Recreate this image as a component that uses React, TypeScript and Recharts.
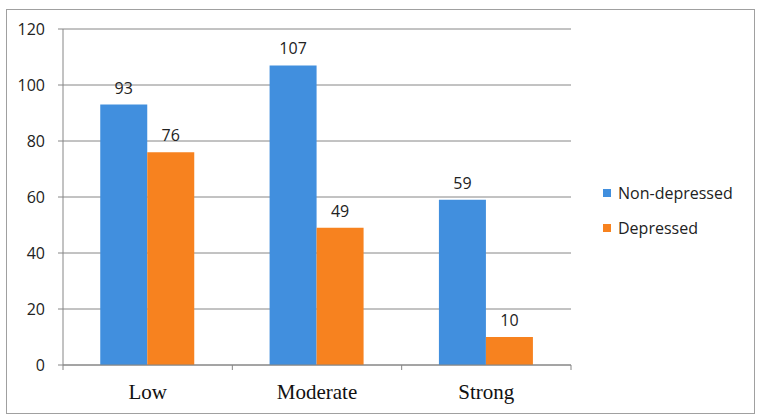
import React from 'react'
import { BarChart, Bar, XAxis, YAxis, CartesianGrid, Legend, LabelList } from 'recharts'

const categories = ['Low', 'Moderate', 'Strong']
const seriesNames = ['Non-depressed', 'Depressed']
const nonDepressed = [93, 107, 59]
const depressed = [76, 49, 10]
const yTicks = [0, 20, 40, 60, 80, 100, 120]

const data = categories.map((name, i) => ({
  name,
  nonDepressed: nonDepressed[i],
  depressed: depressed[i],
}))

const W = 747
const H = 403
const legendWidth = 150
const margin = { top: 19, right: 183 - legendWidth, bottom: 18, left: 6 }
const yAxisWidth = 50
const plotWidth = W - 183 - margin.left - yAxisWidth
const half = plotWidth / categories.length / 2
const axisColor = '#868686'

function CategoryTick(props: any) {
  const { x, y, payload, index } = props
  const last = index === categories.length - 1
  return (
    <g>
      <line x1={x - half} x2={x - half} y1={y} y2={y + 5} stroke={axisColor} />
      {last && <line x1={x + half} x2={x + half} y1={y} y2={y + 5} stroke={axisColor} />}
      <text x={x} y={y + 34} textAnchor="middle" fill="#111" fontSize={21} fontFamily="'Liberation Serif', 'Times New Roman', serif">
        {payload.value}
      </text>
    </g>
  )
}

function LegendBox(props: any) {
  const payload = [...(props.payload || [])].sort(
    (a: any, b: any) => seriesNames.indexOf(a.value) - seriesNames.indexOf(b.value)
  )
  return (
    <div style={{ fontFamily: "'Open Sans', sans-serif", fontSize: 16, color: '#222', width: legendWidth }}>
      {payload.map((p: any) => (
        <div key={p.value} style={{ height: 35, display: 'flex', alignItems: 'center' }}>
          <span style={{ width: 8, height: 8, background: p.color, display: 'inline-block', marginRight: 7 }} />
          {p.value}
        </div>
      ))}
    </div>
  )
}

export default function App() {
  return (
    <div
      style={{
        position: 'absolute',
        left: 6,
        top: 9,
        width: W + 2,
        height: H + 2,
        border: '1px solid #a0a0a0',
        boxSizing: 'border-box',
        background: '#fff',
      }}
    >
      <BarChart width={W} height={H} data={data} margin={margin} barCategoryGap="22%" barGap={0}>
        <CartesianGrid vertical={false} stroke={axisColor} />
        <XAxis
          dataKey="name"
          stroke={axisColor}
          tickLine={false}
          tickSize={0}
          tickMargin={0}
          tick={<CategoryTick />}
          height={30}
        />
        <YAxis
          domain={[0, 120]}
          ticks={yTicks}
          width={yAxisWidth}
          stroke={axisColor}
          tickSize={5}
          tickMargin={13}
          tick={{ fill: '#222', fontSize: 16, fontFamily: "'Open Sans', sans-serif" }}
        />
        <Legend
          layout="vertical"
          align="right"
          verticalAlign="middle"
          content={<LegendBox />}
          wrapperStyle={{ position: 'absolute', left: 596, top: 165, width: legendWidth }}
        />
        <Bar dataKey="nonDepressed" name={seriesNames[0]} fill="#418fde" isAnimationActive={false}>
          <LabelList dataKey="nonDepressed" position="top" offset={11} fill="#222" fontSize={16} fontFamily="'Open Sans', sans-serif" />
        </Bar>
        <Bar dataKey="depressed" name={seriesNames[1]} fill="#f7821f" isAnimationActive={false}>
          <LabelList dataKey="depressed" position="top" offset={11} fill="#222" fontSize={16} fontFamily="'Open Sans', sans-serif" />
        </Bar>
      </BarChart>
    </div>
  )
}
